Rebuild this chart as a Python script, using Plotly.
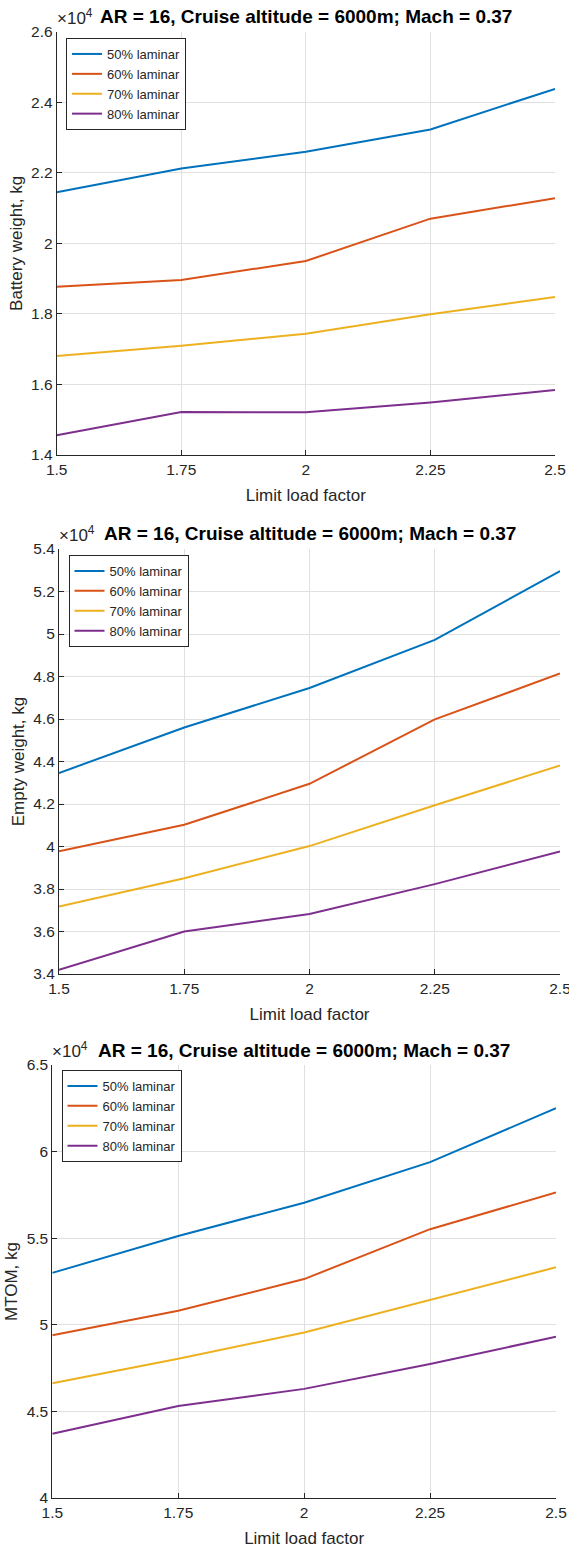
import plotly.graph_objects as go

# ---- data ----
load_factor = [1.5, 1.75, 2.0, 2.25, 2.5]
x_tick_vals = [1.5, 1.75, 2.0, 2.25, 2.5]
x_tick_text = ["1.5", "1.75", "2", "2.25", "2.5"]
series_names = ["50% laminar", "60% laminar", "70% laminar", "80% laminar"]

# Battery weight, kg
battery_50 = [21450, 22120, 22600, 23230, 24380]
battery_60 = [18770, 18960, 19500, 20700, 21280]
battery_70 = [16810, 17100, 17440, 17990, 18480]
battery_80 = [14560, 15220, 15210, 15490, 15840]

# Empty weight, kg
empty_50 = [43460, 45600, 47460, 49720, 52960]
empty_60 = [39770, 41020, 42950, 45980, 48140]
empty_70 = [37180, 38510, 40020, 41940, 43810]
empty_80 = [34200, 36000, 36820, 38230, 39770]

# MTOM, kg
mtom_50 = [53000, 55130, 57050, 59390, 62510]
mtom_60 = [49400, 50810, 52640, 55520, 57640]
mtom_70 = [46630, 48040, 49560, 51460, 53320]
mtom_80 = [43710, 45310, 46300, 47740, 49310]

y_ticks_1 = [1.4, 1.6, 1.8, 2.0, 2.2, 2.4, 2.6]
y_ticks_2 = [3.4, 3.6, 3.8, 4.0, 4.2, 4.4, 4.6, 4.8, 5.0, 5.2, 5.4]
y_ticks_3 = [4.0, 4.5, 5.0, 5.5, 6.0, 6.5]

title_text = "AR = 16, Cruise altitude = 6000m; Mach = 0.37"
x_title = "Limit load factor"
y_titles = ["Battery weight, kg", "Empty weight, kg", "MTOM, kg"]

colors = ["#0072BD", "#D95319", "#EDB120", "#7E2F8E"]

W, H = 569, 1548
FONT = "Liberation Sans, Arial, sans-serif"
TXT = "#262626"
GRID = "#e0e0e0"

panels = [
    dict(data=[battery_50, battery_60, battery_70, battery_80], yt=y_ticks_1,
         box=(56.7, 555, 31.7, 455), legend=(66, 38)),
    dict(data=[empty_50, empty_60, empty_70, empty_80], yt=y_ticks_2,
         box=(59, 560, 549, 974), legend=(68.5, 555)),
    dict(data=[mtom_50, mtom_60, mtom_70, mtom_80], yt=y_ticks_3,
         box=(52.3, 556, 1065, 1498), legend=(61.5, 1070)),
]

fig = go.Figure()
layout = dict(width=W, height=H, margin=dict(l=0, r=0, t=0, b=0, autoexpand=False),
              paper_bgcolor="white", plot_bgcolor="white",
              font=dict(family=FONT, color=TXT, size=15))
annotations = []

for i, p in enumerate(panels):
    n = "" if i == 0 else str(i + 1)
    xa, ya = "x" + n, "y" + n
    leg = "legend" + n
    for vals, name, c in zip(p["data"], series_names, colors):
        fig.add_trace(go.Scatter(
            x=load_factor, y=[v / 1e4 for v in vals], mode="lines", name=name,
            line=dict(color=c, width=2), xaxis=xa, yaxis=ya, legend=leg,
            showlegend=True))
    x0, x1, ytop, ybot = p["box"]
    common = dict(showline=True, linecolor=TXT, linewidth=1, ticks="inside",
                  ticklen=5, tickcolor=TXT, showgrid=True, gridcolor=GRID,
                  gridwidth=1, zeroline=False, automargin=False,
                  ticklabeloverflow="allow",
                  tickfont=dict(size=15.5, color=TXT))
    layout["xaxis" + n] = dict(domain=[x0 / W, x1 / W], anchor=ya,
                               range=[1.5, 2.5], tickvals=x_tick_vals,
                               ticktext=x_tick_text,
                               title=dict(text=x_title, font=dict(size=17), standoff=12),
                               **common)
    yt = p["yt"]
    layout["yaxis" + n] = dict(domain=[1 - ybot / H, 1 - ytop / H], anchor=xa,
                               range=[yt[0], yt[-1]], tickvals=yt,
                               ticktext=[("%g" % v) for v in yt],
                               title=dict(text=y_titles[i], font=dict(size=17), standoff=4),
                               **common)
    lx, ly = p["legend"]
    layout[leg] = dict(x=lx / W, y=1 - ly / H, xanchor="left", yanchor="top",
                       xref="paper", yref="paper",
                       bgcolor="white", bordercolor=TXT, borderwidth=1,
                       font=dict(size=13, color=TXT), tracegroupgap=0,
                       itemwidth=30)
    annotations.append(dict(text="<b>" + title_text + "</b>", x=(x0 + x1) / 2 / W,
                            y=1 - (ytop - 15) / H, xref="paper", yref="paper",
                            xanchor="center", yanchor="middle", showarrow=False,
                            font=dict(size=19, color="black")))
    annotations.append(dict(text="×10<sup>4</sup>", x=(x0 - 2) / W, y=1 - (ytop - 2) / H,
                            xref="paper", yref="paper", xanchor="left",
                            yanchor="bottom", showarrow=False,
                            font=dict(size=17, color=TXT)))

layout["annotations"] = annotations
fig.update_layout(**layout)
fig.write_html("out.html", config={"displayModeBar": False},
               post_script="document.body.style.margin='0';")
